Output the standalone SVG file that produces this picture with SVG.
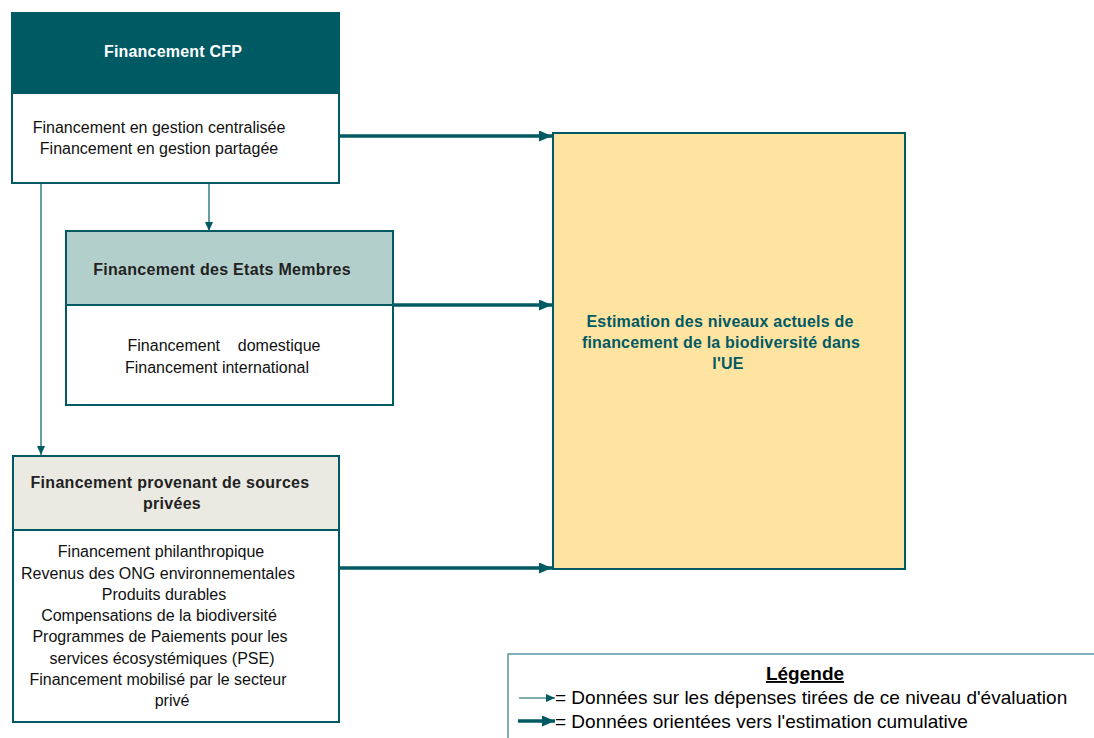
<svg xmlns="http://www.w3.org/2000/svg" width="1094" height="738" viewBox="0 0 1094 738">
<style>
.b{stroke:#005A64;stroke-width:2}
.t{font-family:"Liberation Sans",Arial,sans-serif;font-size:16px;fill:#111;text-anchor:middle}
.h{font-family:"Liberation Sans",Arial,sans-serif;font-size:16px;font-weight:bold;fill:#222;text-anchor:middle;letter-spacing:0.3px}
.thin{stroke:#005A64;stroke-width:1.2;fill:none}
.thick{stroke:#005A64;stroke-width:3.5;fill:none}
.lg{font-family:"Liberation Sans",Arial,sans-serif;font-size:19px;fill:#000}
</style>
<defs>
<marker id="ah1" viewBox="0 0 10 10" refX="10" refY="5" markerWidth="9" markerHeight="8" markerUnits="userSpaceOnUse" orient="auto" preserveAspectRatio="none"><path d="M0,0L10,5L0,10z" fill="#005A64"/></marker>
<marker id="ah2" viewBox="0 0 10 10" refX="10" refY="5" markerWidth="13" markerHeight="11" markerUnits="userSpaceOnUse" orient="auto" preserveAspectRatio="none"><path d="M0,0L10,5L0,10z" fill="#005A64"/></marker>
</defs>
<g id="connectors">
<path class="thin" d="M41,183V455" marker-end="url(#ah1)"/>
<path class="thin" d="M209,183V231" marker-end="url(#ah1)"/>
<path class="thick" d="M339,136H552" marker-end="url(#ah2)"/>
<path class="thick" d="M393,305H552" marker-end="url(#ah2)"/>
<path class="thick" d="M339,568H552" marker-end="url(#ah2)"/>
</g>
<g id="cfp">
<rect class="b" x="12" y="13" width="327" height="80" fill="#005A64"/>
<rect class="b" x="12" y="93" width="327" height="90" fill="#fff"/>
<text class="h" x="173" y="57" style="fill:#fff;letter-spacing:0.2px">Financement CFP</text>
<text class="t" x="159" y="133">Financement en gestion centralisée</text>
<text class="t" x="159" y="154">Financement en gestion partagée</text>
</g>
<g id="etats">
<rect class="b" x="66" y="231" width="327" height="74" fill="#B3CFCC"/>
<rect class="b" x="66" y="305" width="327" height="100" fill="#fff"/>
<text class="h" x="222" y="275">Financement des Etats Membres</text>
<text class="t" x="224" y="351" xml:space="preserve">Financement    domestique</text>
<text class="t" x="217" y="373">Financement international</text>
</g>
<g id="prive">
<rect class="b" x="13" y="456" width="326" height="74" fill="#EAEAE2"/>
<rect class="b" x="13" y="530" width="326" height="192" fill="#fff"/>
<text class="h" x="170" y="488">Financement provenant de sources</text>
<text class="h" x="172" y="509">privées</text>
<text class="t" x="161" y="557">Financement philanthropique</text>
<text class="t" x="158" y="579">Revenus des ONG environnementales</text>
<text class="t" x="164" y="600">Produits durables</text>
<text class="t" x="159" y="621">Compensations de la biodiversité</text>
<text class="t" x="160" y="642">Programmes de Paiements pour les</text>
<text class="t" x="162" y="664">services écosystémiques (PSE)</text>
<text class="t" x="158" y="685">Financement mobilisé par le secteur</text>
<text class="t" x="172" y="706">privé</text>
</g>
<g id="estimation">
<rect class="b" x="553" y="133" width="352" height="436" fill="#FFE3A1"/>
<text class="h" x="720" y="327" style="fill:#005A64;letter-spacing:0.2px">Estimation des niveaux actuels de</text>
<text class="h" x="721" y="348" style="fill:#005A64;letter-spacing:0.2px">financement de la biodiversité dans</text>
<text class="h" x="728" y="369" style="fill:#005A64">l'UE</text>
</g>
<g id="legende">
<rect x="508" y="654" width="600" height="100" fill="#fff" stroke="#2E7D85" stroke-width="1.2"/>
<text class="lg" x="805" y="680" text-anchor="middle" font-weight="bold" text-decoration="underline">Légende</text>
<path class="thin" d="M519,698H555" marker-end="url(#ah1)"/>
<path class="thick" d="M518,721H555" marker-end="url(#ah2)"/>
<text class="lg" x="555" y="704">= Données sur les dépenses tirées de ce niveau d'évaluation</text>
<text class="lg" x="555" y="728">= Données orientées vers l'estimation cumulative</text>
</g>
</svg>
